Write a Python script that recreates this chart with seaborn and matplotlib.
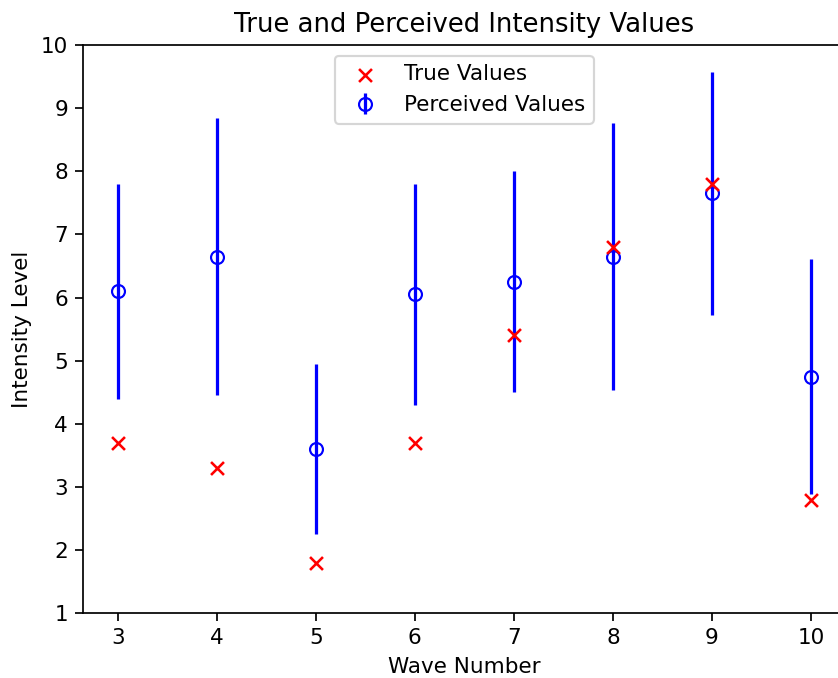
import matplotlib
matplotlib.use("Agg")
import matplotlib.pyplot as plt
import seaborn as sns
import pandas as pd

waves = [3, 4, 5, 6, 7, 8, 9, 10]
true_values = [3.7, 3.3, 1.8, 3.7, 5.4, 6.8, 7.8, 2.8]
perceived_values = [6.1, 6.65, 3.6, 6.05, 6.25, 6.65, 7.65, 4.75]
perceived_err = [1.7, 2.2, 1.35, 1.75, 1.75, 2.12, 1.93, 1.86]

df = pd.DataFrame({"wave": waves, "true": true_values,
                   "perc": perceived_values, "err": perceived_err})

DPI = 155
fig = plt.figure(figsize=(838 / DPI, 678 / DPI), dpi=DPI)
ax = fig.add_axes([83 / 838, (678 - 613.3) / 678, (845.7 - 83) / 838, (613.3 - 45) / 678])

ax.errorbar(df["wave"], df["perc"], yerr=df["err"], fmt="o", color="blue",
            mfc="none", mec="blue", ecolor="blue", elinewidth=1.5,
            capsize=0, label="Perceived Values", zorder=2)
sns.scatterplot(data=df, x="wave", y="true", marker="x", color="red", s=36,
                linewidth=1.2, label="True Values", ax=ax, zorder=3)

ax.set_ylim(1, 10)
ax.set_yticks(range(1, 11))
ax.set_xticks(waves)
ax.set_xlabel("Wave Number")
ax.set_ylabel("Intensity Level")
ax.set_title("True and Perceived Intensity Values")

handles, labels = ax.get_legend_handles_labels()
order = [labels.index("True Values"), labels.index("Perceived Values")]
ax.legend([handles[i] for i in order], [labels[i] for i in order], loc="upper center")

fig.savefig("out.png", dpi=DPI)
